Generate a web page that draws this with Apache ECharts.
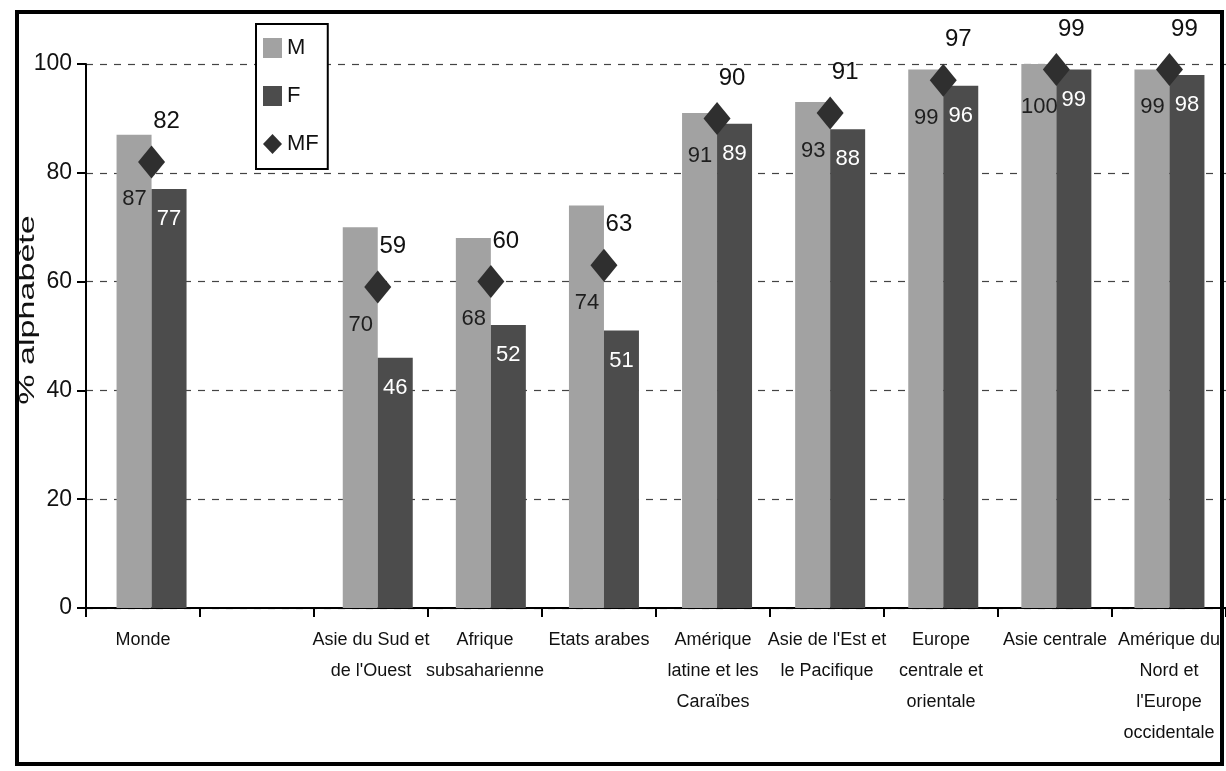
<!DOCTYPE html>
<html>
<head>
<meta charset="utf-8">
<script src="https://cdn.jsdelivr.net/npm/echarts@6/dist/echarts.min.js"></script>
<style>
  html, body { margin: 0; padding: 0; background: #fff; }
  #chart { width: 1226px; height: 771px; }
</style>
</head>
<body>
<div id="chart"></div>
<script>
// ---- data ----
const categories = [
  'Monde',
  '',
  "Asie du Sud et\nde l'Ouest",
  'Afrique\nsubsaharienne',
  'Etats arabes',
  'Amérique\nlatine et les\nCaraïbes',
  "Asie de l'Est et\nle Pacifique",
  'Europe\ncentrale et\norientale',
  'Asie centrale',
  "Amérique du\nNord et\nl'Europe\noccidentale"
];
const seriesNames = ['M', 'F', 'MF'];
const maleValues   = [87, null, 70, 68, 74, 91, 93, 99, 100, 99];
const femaleValues = [77, null, 46, 52, 51, 89, 88, 96, 99, 98];
const totalValues  = [82, null, 59, 60, 63, 90, 91, 97, 99, 99];
const yMin = 0, yMax = 100, yStep = 20;
const yTitle = '% alphabète';

// ---- chart ----
const FONT = "'Liberation Sans', Arial, sans-serif";
const chart = echarts.init(document.getElementById('chart'), null, { renderer: 'canvas' });

const option = {
  backgroundColor: '#ffffff',
  animation: false,
  grid: [
    { left: 95, width: 1144, top: 64, bottom: 163 },   // marks
    { left: 86, width: 1142, top: 64, bottom: 163 }    // visible axes
  ],
  legend: {
    orient: 'vertical',
    left: 256,
    top: 24,
    itemWidth: 19,
    itemHeight: 20,
    itemGap: 26,
    padding: [13, 9, 14, 7],
    borderColor: '#000',
    borderWidth: 2,
    backgroundColor: '#fff',
    textStyle: { fontFamily: FONT, fontSize: 22, lineHeight: 20, color: '#111' },
    data: [
      { name: seriesNames[0], icon: 'rect' },
      { name: seriesNames[1], icon: 'rect' },
      { name: seriesNames[2], icon: 'diamond' }
    ]
  },
  xAxis: [
    { gridIndex: 0, type: 'category', data: categories, show: false },
    {
      gridIndex: 1, type: 'category', data: categories,
      axisLine: { lineStyle: { color: '#000', width: 2 } },
      axisTick: { show: true, interval: 0, length: 9, lineStyle: { color: '#000', width: 2 } },
      axisLabel: {
        interval: 0, margin: 17, fontFamily: FONT, fontSize: 18, lineHeight: 31,
        color: '#111', align: 'center'
      }
    }
  ],
  yAxis: [
    { gridIndex: 0, type: 'value', min: yMin, max: yMax, interval: yStep, show: false },
    {
      gridIndex: 1, type: 'value', min: yMin, max: yMax, interval: yStep,
      axisLine: { show: true, lineStyle: { color: '#000', width: 2 } },
      axisTick: { show: true, length: 9, lineStyle: { color: '#000', width: 2 } },
      axisLabel: { margin: 14, fontFamily: FONT, fontSize: 23, color: '#111' },
      splitLine: { show: true, lineStyle: { color: '#444', width: 1.2, type: [7, 7] } }
    }
  ],
  series: [
    {
      name: seriesNames[0], type: 'bar', xAxisIndex: 0, yAxisIndex: 0,
      data: maleValues, barWidth: 35, barGap: '0%',
      itemStyle: { color: '#a2a2a2' },
      label: { show: false }
    },
    {
      name: seriesNames[1], type: 'bar', xAxisIndex: 0, yAxisIndex: 0,
      data: femaleValues, barWidth: 35, barGap: '0%',
      itemStyle: { color: '#4c4c4c' },
      label: {
        show: true, position: 'insideTop', distance: 19,
        fontFamily: FONT, fontSize: 22, color: '#ffffff'
      }
    },
    {
      // value labels of the M bars, placed (as in the original) just under the MF marker
      name: 'M-labels', type: 'scatter', xAxisIndex: 0, yAxisIndex: 0,
      data: totalValues, symbol: 'circle', symbolSize: 1,
      itemStyle: { color: 'transparent', opacity: 1 },
      silent: true, z: 4,
      label: {
        show: true, position: 'bottom', distance: 26, offset: [-17, 0],
        fontFamily: FONT, fontSize: 22, color: '#1e1e1e',
        formatter: p => (maleValues[p.dataIndex] == null ? '' : String(maleValues[p.dataIndex]))
      }
    },
    {
      name: seriesNames[2], type: 'scatter', xAxisIndex: 0, yAxisIndex: 0,
      data: totalValues, symbol: 'diamond', symbolSize: [27, 33],
      itemStyle: { color: '#2f2f2f', opacity: 1 },
      z: 5,
      label: {
        show: true, position: 'top', distance: 12, offset: [15, 0],
        fontFamily: FONT, fontSize: 24, color: '#111'
      }
    }
  ],
  graphic: [
    {
      type: 'rect', silent: true, z: 100,
      shape: { x: 17, y: 12, width: 1205, height: 752 },
      style: { fill: 'none', stroke: '#000', lineWidth: 4 }
    },
    {
      type: 'text', silent: true, z: 100,
      x: 28, y: 310, rotation: Math.PI / 2, scaleX: 1.55,
      style: {
        text: yTitle, fontFamily: FONT, fontSize: 22,
        fill: '#111', align: 'center', verticalAlign: 'middle'
      }
    }
  ]
};
chart.setOption(option);
</script>
</body>
</html>
